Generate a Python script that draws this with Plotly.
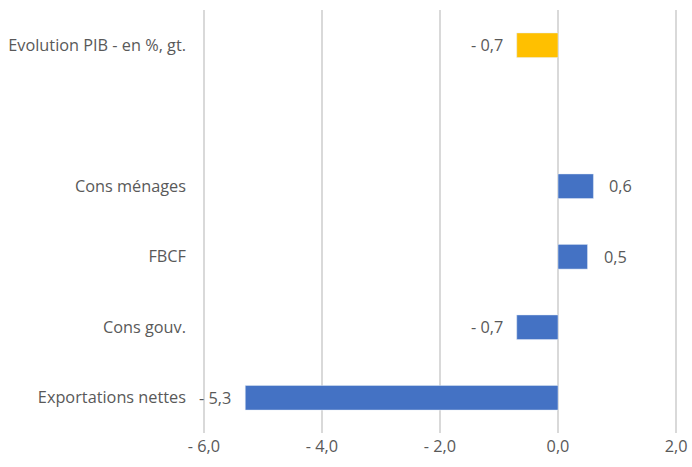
import plotly.graph_objects as go

categories = ["Evolution PIB - en %, gt.", " ", "Cons ménages", "FBCF", "Cons gouv.", "Exportations nettes"]
values = [-0.7, None, 0.6, 0.5, -0.7, -5.3]
colors = ["#FFC000", "#4472C4", "#4472C4", "#4472C4", "#4472C4", "#4472C4"]
tick_vals = [-6, -4, -2, 0, 2]
tick_text = ["- 6,0", "- 4,0", "- 2,0", "0,0", "2,0"]

def fmt(v):
    s = f"{abs(v):.1f}".replace(".", ",")
    return ("- " + s) if v < 0 else s

font = dict(family="Open Sans, Liberation Sans, sans-serif", size=16.3, color="#595959")

fig = go.Figure(go.Bar(
    x=values, y=categories, orientation="h",
    marker=dict(color=colors), width=0.35,
))

for c, v in zip(categories, values):
    if v is None:
        continue
    fig.add_annotation(x=v, y=c, text=fmt(v), showarrow=False,
                       xanchor="right" if v < 0 else "left",
                       xshift=-12 if v < 0 else 14, font=font)

fig.update_layout(
    width=692, height=467,
    margin=dict(l=201, r=13, t=10, b=34),
    plot_bgcolor="white", paper_bgcolor="white",
    showlegend=False, font=font,
    xaxis=dict(range=[-6.05, 2.05], tickvals=tick_vals, ticktext=tick_text,
               showgrid=True, gridcolor="#d9d9d9", gridwidth=1.5, automargin=False,
               zeroline=False, showline=False, ticks="", ticklabelstandoff=2),
    yaxis=dict(type="category", categoryorder="array", categoryarray=categories,
               autorange="reversed", showgrid=False, zeroline=False, automargin=False,
               showline=False, ticks="", ticklabelstandoff=14),
)

fig.write_html("out.html")
